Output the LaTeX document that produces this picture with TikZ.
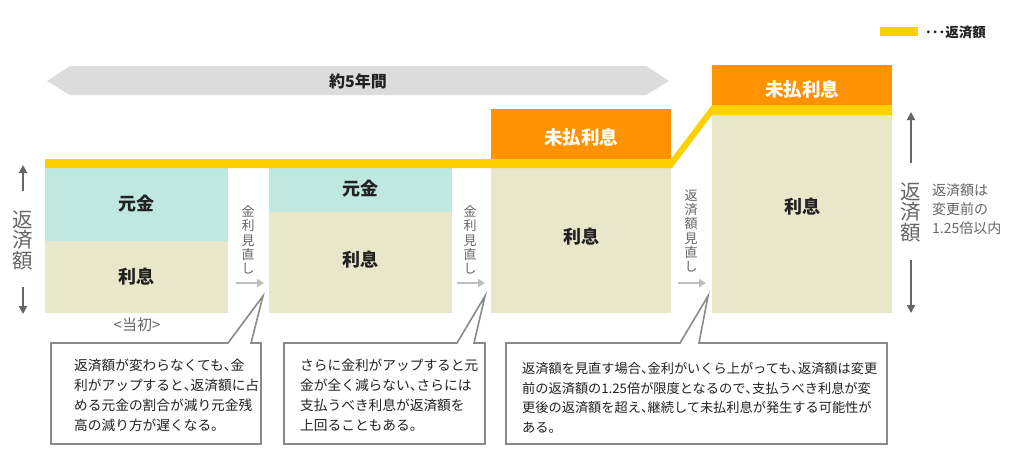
\documentclass[tikz,border=0pt]{standalone}
\usepackage{fontspec}
\setmainfont{Noto Sans CJK JP}
\usetikzlibrary{arrows.meta}
\definecolor{cyel}{HTML}{FFD000}
\definecolor{corg}{HTML}{FF9200}
\definecolor{cteal}{HTML}{BFE9E0}
\definecolor{cbeige}{HTML}{E9E7CA}
\definecolor{cband}{HTML}{DCDCDC}
\definecolor{cdark}{HTML}{666666}
\definecolor{clight}{HTML}{BDBDBD}
\definecolor{ctext}{HTML}{222222}
\definecolor{cline}{HTML}{8A8A8A}
\newcommand\tten{\makebox[0.5em][l]{、}}
\tikzset{
  lbl/.style={inner sep=0, text=ctext, font=\fontsize{18}{20}\selectfont\bfseries},
  wlbl/.style={inner sep=0, text=white, font=\fontsize{18.5}{20}\selectfont\bfseries},
  vtxt/.style={inner sep=0, text=cdark, align=center, font=\fontsize{13}{14.2}\selectfont},
  bigv/.style={inner sep=0, text=cdark, align=center, font=\fontsize{20.5}{20.5}\selectfont},
  darr/.style={draw=cdark, line width=2pt, -{Triangle[length=8pt,width=8pt]}},
  larr/.style={draw=clight, line width=1.8pt, -{Triangle[length=7pt,width=8pt]}},
  callout/.style={draw=cline, line width=1.6pt, fill=white, line join=miter},
  ctxt/.style={inner sep=0, anchor=north west, text=ctext, align=left, font=\fontsize{13.7}{20}\selectfont},
}
\begin{document}
\begin{tikzpicture}[x=1pt,y=-1pt]
\useasboundingbox (0,0) rectangle (1032,459);
\fill[white] (0,0) rectangle (1032,459);
% legend
\fill[cyel] (880,27) rectangle (918,36);
\node[inner sep=0, anchor=west, text=ctext, font=\fontsize{13.5}{14}\selectfont\bfseries] (legend) at (925,32) {･･･返済額};
% banner
\fill[cband] (47,81) -- (70,66) -- (646,66) -- (669,81) -- (646,95) -- (70,95) -- cycle;
\node[inner sep=0, text=ctext, font=\fontsize{16}{18}\selectfont\bfseries] (period) at (358,81) {約5年間};
% column 1
\fill[cteal] (45,168) rectangle (228,241);
\fill[cbeige] (45,241) rectangle (228,313);
\node[lbl] (g1) at (136.5,204) {元金};
\node[lbl] (r1) at (136.5,277) {利息};
\node[inner sep=0, text=cdark, font=\fontsize{15}{16}\selectfont] (init) at (137,325) {<当初>};
% column 2
\fill[cteal] (269,168) rectangle (452,212);
\fill[cbeige] (269,212) rectangle (452,313);
\node[lbl] (g2) at (360.5,189) {元金};
\node[lbl] (r2) at (360.5,260) {利息};
% column 3
\fill[corg] (491,109) rectangle (671,159);
\fill[cbeige] (491,168) rectangle (671,313);
\node[wlbl] (m3) at (581,137) {未払利息};
\node[lbl] (r3) at (581,237) {利息};
% column 4
\fill[corg] (712,65) rectangle (892,105);
\fill[cbeige] (712,115) rectangle (892,313);
\node[wlbl] (m4) at (802,89) {未払利息};
\node[lbl] (r4) at (802,207) {利息};
% payment line
\fill[cyel] (45,159) -- (671,159) -- (712,105) -- (892,105) -- (892,115) -- (712,115) -- (672,168) -- (45,168) -- cycle;
% left scale
\node[bigv] (lv) at (23,240) {返\\済\\額};
\coordinate (la1) at (23,191); \coordinate (la1t) at (23,165);
\coordinate (la2) at (23,287); \coordinate (la2t) at (23,314);
\draw[darr] (la1) -- (la1t);
\draw[darr] (la2) -- (la2t);
% right scale
\node[bigv] (rv) at (911,212) {返\\済\\額};
\coordinate (ra1) at (911,163); \coordinate (ra1t) at (911,112);
\coordinate (ra2) at (911,260); \coordinate (ra2t) at (911,313);
\draw[darr] (ra1) -- (ra1t);
\draw[darr] (ra2) -- (ra2t);
\node[inner sep=0, anchor=north west, text=cdark, align=left, font=\fontsize{14}{19}\selectfont] (rnote) at (932,184) {返済額は\\変更前の\\1.25倍以内};
% transitions
\node[vtxt] (t1) at (248,240) {金\\利\\見\\直\\し};
\coordinate (t1a) at (236,283); \coordinate (t1b) at (264,283);
\draw[larr] (t1a) -- (t1b);
\node[vtxt] (t2) at (470,240) {金\\利\\見\\直\\し};
\coordinate (t2a) at (457,283); \coordinate (t2b) at (485,283);
\draw[larr] (t2a) -- (t2b);
\node[vtxt] (t3) at (691,231) {返\\済\\額\\見\\直\\し};
\coordinate (t3a) at (678,283); \coordinate (t3b) at (706,283);
\draw[larr] (t3a) -- (t3b);
% callouts
\coordinate (p1) at (263,296);
\coordinate (p2) at (485,296);
\coordinate (p3) at (708,296);
\draw[callout] (51,343) -- (228,343) -- (p1) -- (251,343) -- (261,343) -- (261,444) -- (51,444) -- cycle;
\draw[callout] (284,343) -- (457,343) -- (p2) -- (474,343) -- (485,343) -- (485,444) -- (284,444) -- cycle;
\draw[callout] (506,343) -- (680,343) -- (p3) -- (699,343) -- (887,343) -- (887,444) -- (506,444) -- cycle;
\node[ctxt] (c1) at (74,359) {返済額が変わらなくても\tten 金\\利がアップすると\tten 返済額に占\\める元金の割合が減り元金残\\高の減り方が遅くなる。};
\node[ctxt] (c2) at (300,359) {さらに金利がアップすると元\\金が全く減らない\tten さらには\\支払うべき利息が返済額を\\上回ることもある。};
\node[ctxt, font=\fontsize{13.2}{19.8}\selectfont] (c3) at (522,362) {返済額を見直す場合\tten 金利がいくら上がっても\tten 返済額は変更\\前の返済額の1.25倍が限度となるので\tten 支払うべき利息が変\\更後の返済額を超え\tten 継続して未払利息が発生する可能性が\\ある。};
\end{tikzpicture}
\end{document}
